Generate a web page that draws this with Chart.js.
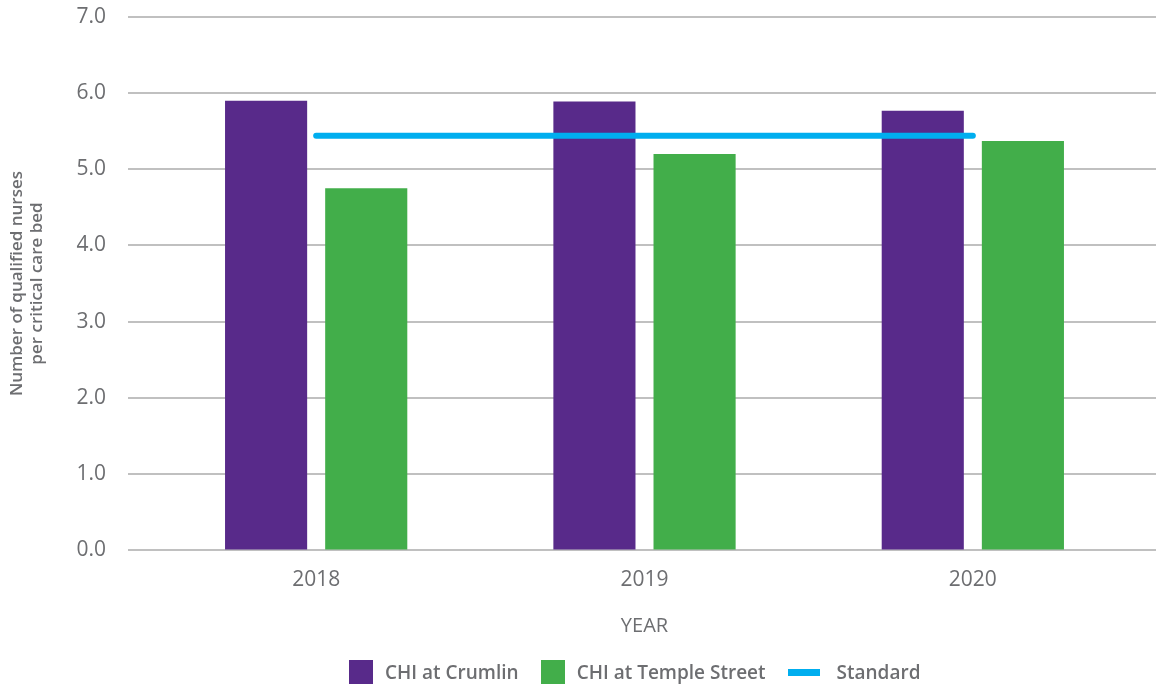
<!DOCTYPE html>
<html>
<head>
<meta charset="utf-8">
<script src="https://cdn.jsdelivr.net/npm/chart.js@4.4.1/dist/chart.umd.min.js"></script>
<style>
    body { margin: 0; background: #fff; }
    #wrap { position: relative; width: 1156px; height: 686px; }
    #legend {
        position: absolute; left: 349px; top: 659px;
        display: flex; align-items: center;
        font-family: "Open Sans", sans-serif; font-weight: 600; font-size: 19px; color: #6d6e71;
    }
    .item { display: flex; align-items: center; margin-right: 22px; }
    .box { width: 24px; height: 24px; margin-right: 12px; }
    .line { width: 32px; height: 7px; margin-right: 17px; }
</style>
</head>
<body>
<div id="wrap">
    <canvas id="nurseChart" width="1156" height="686"></canvas>
    <div id="legend"></div>
</div>
<script>
// Data
const years = ['2018', '2019', '2020'];
const crumlinValues = [5.90, 5.89, 5.77];
const templeStreetValues = [4.75, 5.20, 5.37];
const standardValues = [5.44, 5.44, 5.44];

const purple = '#582a8a';
const green = '#42ae4a';
const blue = '#00aeef';
const textGrey = '#6d6e71';
const gridColor = '#ababab';

// Gridlines in the reference start left of the plot and run to the picture edge
const gridLines = {
    id: 'gridLines',
    beforeDatasetsDraw(chart) {
        const { ctx, chartArea, scales: { y } } = chart;
        ctx.save();
        ctx.strokeStyle = gridColor;
        ctx.lineWidth = 1.5;
        y.ticks.forEach(t => {
            const py = Math.round(y.getPixelForValue(t.value));
            ctx.beginPath();
            ctx.moveTo(chartArea.left - 24, py);
            ctx.lineTo(chart.width, py);
            ctx.stroke();
        });
        ctx.restore();
    }
};

const ctx = document.getElementById('nurseChart').getContext('2d');
const nurseChart = new Chart(ctx, {
    type: 'bar',
    data: {
        labels: years,
        datasets: [
            {
                type: 'line',
                label: 'Standard',
                data: standardValues,
                borderColor: blue,
                backgroundColor: blue,
                borderWidth: 6,
                borderCapStyle: 'round',
                pointRadius: 0,
                fill: false,
                order: 0
            },
            {
                label: 'CHI at Crumlin',
                data: crumlinValues,
                backgroundColor: purple,
                categoryPercentage: 0.61,
                barPercentage: 0.82,
                order: 1
            },
            {
                label: 'CHI at Temple Street',
                data: templeStreetValues,
                backgroundColor: green,
                categoryPercentage: 0.61,
                barPercentage: 0.82,
                order: 1
            }
        ]
    },
    options: {
        responsive: false,
        animation: false,
        layout: { padding: { top: 17, right: 19, bottom: 36, left: 0 } },
        plugins: {
            legend: { display: false },
            tooltip: { enabled: false }
        },
        scales: {
            x: {
                grid: { display: false, drawTicks: false },
                border: { display: false },
                ticks: {
                    padding: 17,
                    color: textGrey,
                    font: { family: 'Open Sans', size: 21 }
                },
                title: {
                    display: true,
                    text: 'YEAR',
                    color: textGrey,
                    font: { family: 'Open Sans', size: 20 },
                    padding: { top: 0, bottom: 12 }
                },
                afterFit(scale) {
                    scale.height = 100;
                    scale.paddingLeft = 0;
                    scale.paddingRight = 0;
                }
            },
            y: {
                min: 0,
                max: 7,
                grid: { color: 'rgba(0,0,0,0)', tickLength: 24, drawTicks: true },
                border: { display: false },
                ticks: {
                    stepSize: 1,
                    padding: 22,
                    color: textGrey,
                    font: { family: 'Open Sans', size: 21 },
                    callback: v => v.toFixed(1)
                },
                title: {
                    display: true,
                    text: ['Number of qualified nurses', 'per critical care bed'],
                    color: textGrey,
                    font: { family: 'Open Sans', size: 17, weight: '600' },
                    padding: { top: 7, bottom: 0 }
                },
                afterFit(scale) {
                    scale.width = 152;
                    scale.paddingTop = 0;
                    scale.paddingBottom = 0;
                }
            }
        }
    },
    plugins: [gridLines]
});

// Legend built as html so the line swatch can differ from the boxes
const legendItems = [
    { label: 'CHI at Crumlin', color: purple, kind: 'box' },
    { label: 'CHI at Temple Street', color: green, kind: 'box' },
    { label: 'Standard', color: blue, kind: 'line' }
];
document.getElementById('legend').innerHTML = legendItems.map(item => `
    <div class="item"><span class="${item.kind}" style="background:${item.color}"></span>${item.label}</div>
`).join('');
</script>
</body>
</html>
